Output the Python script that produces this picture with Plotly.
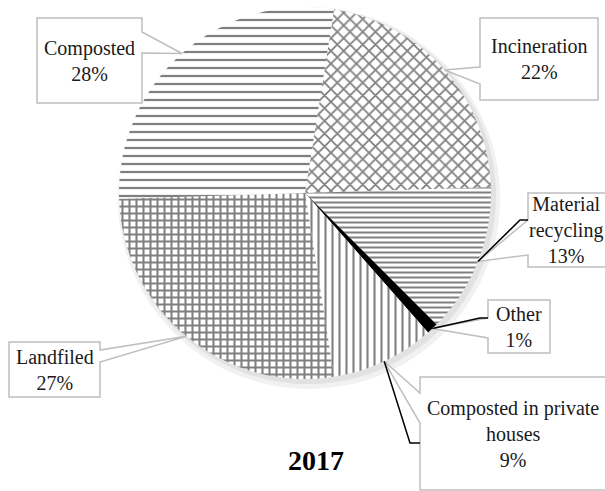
import math
import plotly.graph_objects as go

W, H = 605, 491

# slices, clockwise from the top
labels = ['Incineration', 'Material recycling', 'Other',
          'Composted in private houses', 'Landfiled', 'Composted']
values = [22, 13, 1, 9, 27, 28]
box_names = ['Incineration', 'Material<br>recycling', 'Other',
             'Composted in private<br>houses', 'Landfiled', 'Composted']

# fill patterns per slice
pat_shape = ['x', '-', '', '|', '+', '-']
pat_size = [9, 5, 8, 7, 7, 8]
pat_solid = [0.35, 0.4, 0.3, 0.3, 0.5, 0.28]
slice_colors = ['white', 'white', 'black', 'white', 'white', 'white']

# pie geometry in pixels
CX, CY, R = 305, 193, 186
ROT = 9

# callout boxes: x0, y0, x1, y1, side, notch start, notch end
boxes = {
    'Incineration': (480, 18, 598, 100, 'left', 67, 84),
    'Material recycling': (528, 193, 608, 267, 'left', 220, 255),
    'Other': (488, 300, 550, 353, 'left', 318, 338),
    'Composted in private houses': (420, 377, 608, 490, 'left', 393, 423),
    'Landfiled': (9, 342, 100, 397, 'right', 350, 362),
    'Composted': (37, 18, 142, 103, 'right', 32, 53),
}
# black leader lines: elbow point, end x at the box
leaders = {
    'Material recycling': (520, 220, 528),
    'Other': (480, 318, 488),
    'Composted in private houses': (410, 443, 420),
}
# text centre x where the box runs off the page
text_cx = {'Material recycling': 566, 'Composted in private houses': 513}


def px(x):
    return x / W


def py(y):
    return 1 - y / H


def slice_tip(i):
    total = sum(values)
    mid = sum(values[:i]) + values[i] / 2
    a = math.radians(ROT + mid / total * 360)
    return CX + R * math.sin(a), CY - R * math.cos(a)


def pie_domain(cx, cy, r):
    return dict(x=[px(cx - r), px(cx + r)], y=[py(cy + r), py(cy - r)])


fig = go.Figure()

# soft shadow under the pie
for dx, dy, dr, col in [(4, 5, 5, '#f1f1f1'), (3, 3, 2, '#e2e2e2')]:
    fig.add_trace(go.Pie(
        values=[1], marker=dict(colors=[col], line=dict(width=0)),
        domain=pie_domain(CX + dx, CY + dy, R + dr),
        textinfo='none', hoverinfo='skip', showlegend=False, sort=False
    ))

fig.add_trace(go.Pie(
    labels=labels,
    values=values,
    sort=False,
    direction='clockwise',
    rotation=ROT,
    textinfo='none',
    domain=pie_domain(CX, CY, R),
    marker=dict(
        colors=slice_colors,
        line=dict(width=0),
        pattern=dict(shape=pat_shape, size=pat_size, solidity=pat_solid,
                     fgcolor='black', fillmode='overlay')
    ),
    showlegend=False
))

shapes = []
annotations = []
for i, lab in enumerate(labels):
    x0, y0, x1, y1, side, b0, b1 = boxes[lab]
    tx, ty = slice_tip(i)
    if side == 'right':
        pts = [(x0, y0), (x1, y0), (x1, b0), (tx, ty), (x1, b1), (x1, y1), (x0, y1)]
    else:
        pts = [(x0, y0), (x1, y0), (x1, y1), (x0, y1), (x0, b1), (tx, ty), (x0, b0)]
    path = 'M ' + ' L '.join(f'{px(a):.5f},{py(b):.5f}' for a, b in pts) + ' Z'
    shapes.append(dict(type='path', path=path, xref='paper', yref='paper',
                       fillcolor='white', line=dict(color='#bfbfbf', width=1.5),
                       layer='above'))
    if lab in leaders:
        ex, ey, bx = leaders[lab]
        lp = f'M {px(tx):.5f},{py(ty):.5f} L {px(ex):.5f},{py(ey):.5f} L {px(bx):.5f},{py(ey):.5f}'
        shapes.append(dict(type='path', path=lp, xref='paper', yref='paper',
                           line=dict(color='black', width=1.5), layer='above'))
    annotations.append(dict(
        x=px(text_cx.get(lab, (x0 + x1) / 2)),
        y=py((y0 + y1) / 2),
        xref='paper', yref='paper', showarrow=False, align='center',
        xanchor='center', yanchor='middle',
        text=f'{box_names[i]}<br>{values[i]}%',
        font=dict(family='Liberation Serif, serif', size=20, color='#1a1a1a')
    ))

annotations.append(dict(
    x=px(316), y=py(460), xref='paper', yref='paper', showarrow=False,
    xanchor='center', yanchor='middle', text='<b>2017</b>',
    font=dict(family='Liberation Serif, serif', size=28, color='black')
))

fig.update_layout(
    width=W,
    height=H,
    margin=dict(l=0, r=0, t=0, b=0),
    paper_bgcolor='white',
    plot_bgcolor='white',
    showlegend=False,
    shapes=shapes,
    annotations=annotations
)

fig.write_html('out.html', config={'displayModeBar': False},
               post_script="document.body.style.margin='0';")
